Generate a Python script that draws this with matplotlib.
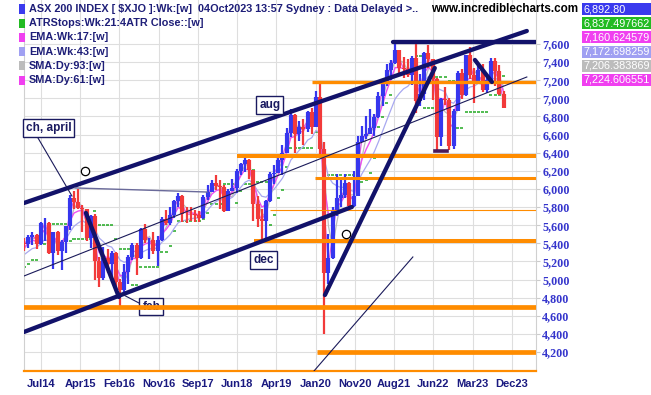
import pandas as pd
import numpy as np
import matplotlib
matplotlib.use('Agg')
import matplotlib.pyplot as plt
import matplotlib.dates as mdates
from matplotlib.patches import Rectangle

plt.rcParams['font.family'] = ['Liberation Sans', 'DejaVu Sans']

# monthly ASX 200 bars, Jul 2013 .. Oct 2023 (mid-month positions)
month_start = '2013-07-01'
close = [5052, 5135, 5218, 5425, 5320, 5352,
         5190, 5405, 5395, 5470, 5492, 5396, 5623, 5625, 5293, 5527, 5313, 5411,
         5588, 5898, 5861, 5790, 5777, 5459, 5699, 5207, 5021, 5239, 5166, 5296,
         4976, 4880, 5082, 5252, 5378, 5233, 5562, 5433, 5436, 5317, 5440, 5665,
         5621, 5712, 5864, 5924, 5724, 5721, 5720, 5715, 5682, 5909, 5969, 6065,
         6037, 6016, 5759, 5982, 6011, 6195, 6280, 6320, 6208, 5830, 5667, 5646,
         5865, 6169, 6181, 6325, 6397, 6618, 6813, 6604, 6688, 6663, 6846, 6684,
         7017, 6441, 5077, 5242, 5755, 5898, 5928, 6061, 5816, 5927, 6517, 6587,
         6607, 6673, 6791, 7025, 7162, 7313, 7393, 7535, 7332, 7324, 7256, 7445,
         6971, 7049, 7500, 7435, 7211, 6568, 6993, 6987, 6474, 6863, 7284, 7039,
         7476, 7258, 7178, 7309, 7091, 7203, 7410, 7305, 7049, 6893]
high = [5100, 5180, 5270, 5440, 5440, 5360,
        5400, 5420, 5460, 5490, 5520, 5500, 5630, 5680, 5640, 5530, 5540, 5440,
        5590, 5930, 5982, 5996, 5820, 5650, 5710, 5720, 5250, 5360, 5340, 5310,
        5300, 5010, 5170, 5270, 5400, 5400, 5570, 5610, 5460, 5530, 5480, 5690,
        5770, 5800, 5880, 5956, 5930, 5800, 5800, 5770, 5760, 5930, 6040, 6100,
        6150, 6100, 6040, 6000, 6110, 6220, 6290, 6374, 6330, 6210, 5920, 5780,
        5880, 6190, 6260, 6360, 6480, 6670, 6880, 6830, 6750, 6770, 6860, 6890,
        7080, 7197, 6520, 5500, 5800, 6160, 6100, 6170, 6080, 6200, 6580, 6690,
        6800, 6880, 6830, 7070, 7180, 7380, 7420, 7632, 7520, 7460, 7440, 7470,
        7600, 7270, 7510, 7590, 7430, 7230, 7000, 7130, 7000, 6880, 7300, 7320,
        7480, 7570, 7340, 7360, 7380, 7250, 7450, 7450, 7370, 7080]
low = [4900, 4960, 5100, 5200, 5280, 5130,
       5120, 5130, 5320, 5350, 5380, 5340, 5380, 5430, 5280, 5120, 5270, 5110,
       5290, 5550, 5780, 5780, 5520, 5430, 5350, 5000, 4920, 5000, 5070, 5030,
       4870, 4706, 4850, 4950, 5210, 5050, 5230, 5400, 5230, 5280, 5150, 5420,
       5600, 5600, 5680, 5800, 5630, 5620, 5650, 5640, 5630, 5670, 5880, 5970,
       5990, 5780, 5740, 5760, 5980, 5960, 6150, 6190, 6110, 5650, 5580, 5410,
       5460, 5860, 6050, 6180, 6150, 6400, 6570, 6400, 6530, 6490, 6630, 6610,
       6700, 6390, 4402, 4950, 5230, 5700, 5800, 5900, 5760, 5800, 5920, 6530,
       6550, 6640, 6580, 6780, 6920, 7140, 7200, 7380, 7270, 7220, 7240, 7150,
       6840, 6920, 6980, 7340, 6980, 6430, 6470, 6930, 6430, 6440, 6870, 6990,
       7030, 7210, 6950, 7170, 7070, 7060, 7200, 7140, 7040, 6890]

x_labels = ['Jul14', 'Apr15', 'Feb16', 'Nov16', 'Sep17', 'Jun18', 'Apr19',
            'Jan20', 'Nov20', 'Aug21', 'Jun22', 'Mar23', 'Dec23']
y_ticks = list(range(4200, 7601, 200))

legend_names = ['ASX 200 INDEX [ $XJO ]:Wk:[w]  04Oct2023 13:57 Sydney : Data Delayed >..',
                'ATRStops:Wk:21:4ATR Close::[w]', 'EMA:Wk:17:[w]', 'EMA:Wk:43:[w]',
                'SMA:Dy:93:[w]', 'SMA:Dy:61:[w]']
legend_values = ['6,892.80', '6,837.497662', '7,160.624579', '7,172.698259',
                 '7,206.383869', '7,224.606551']
legend_colors = ['#3a3aee', '#22bb22', '#f040f0', '#a0a0f2', '#bcbcbc', '#f040f0']

# hand drawn lines (date, index level)
thick_lines = [
    (['2014-03-15', '2024-04-02'], [5845, 7744]),   # upper channel
    (['2014-03-15', '2020-10-03'], [4421, 5801]),   # lower channel
    (['2015-06-10', '2016-02-06'], [5735, 4807]),
    (['2020-03-20', '2022-05-31'], [4829, 7335]),
    (['2021-08-01', '2024-07-01'], [7622, 7622]),
    (['2023-03-20', '2023-07-22'], [7424, 7181]),
]
thin_lines = [
    (['2014-03-15', '2024-04-02'], [5039, 7236]),
    (['2019-12-31', '2021-12-22'], [3990, 5249]),
    (['2014-06-25', '2015-02-28'], [6563, 5922]),
    (['2016-02-13', '2016-07-01'], [4851, 4741]),
]
flat_line = (['2015-03-22', '2017-11-10'], [6011, 5966])
low_2022 = (['2022-05-31', '2022-08-27'], [6419, 6419])

orange_levels = [7181, 6364, 6121, 5762, 5430, 4697, 4200]
orange_starts = ['2019-12-20', '2018-06-17', '2020-01-07', '2019-02-13',
                 '2018-10-19', '2014-03-01', '2020-01-24']
orange_widths = [2.4, 2.9, 2.2, 0.8, 2.9, 3.4, 3.4]

circles = (['2015-06-04', '2020-08-24'], [6198, 5503])
notes = [('aug', '2019-02-12', 6927), ('dec', '2018-12-29', 5216), ('feb', '2016-09-30', 4702)]

# ---- data frame + indicators
dates = pd.date_range(month_start, periods=len(close), freq='MS') + pd.Timedelta(days=14)
df = pd.DataFrame({'close': close, 'high': high, 'low': low}, index=dates)
df['open'] = df['close'].shift(1).fillna(df['close'])
df['ema17'] = df['close'].ewm(span=4, adjust=False).mean()
df['ema43'] = df['close'].ewm(span=10, adjust=False).mean()
df['sma93'] = df['close'].rolling(3).mean()
df['sma61'] = df['close'].rolling(2).mean()

prev = df['close'].shift(1)
tr = pd.concat([df['high'] - df['low'], (df['high'] - prev).abs(),
                (df['low'] - prev).abs()], axis=1).max(axis=1)
atr = tr.rolling(5, min_periods=1).mean()
stops = []
trend = 1
stop = df['close'].iloc[0] - 1.4 * atr.iloc[0]
for c, a in zip(df['close'], atr):
    if trend == 1:
        if c < stop:
            trend, stop = -1, c + 1.4 * a
        else:
            stop = max(stop, c - 1.4 * a)
    else:
        if c > stop:
            trend, stop = 1, c - 1.4 * a
        else:
            stop = min(stop, c + 1.4 * a)
    stops.append(stop)
df['stop'] = stops

# ---- figure
W, H = 651, 395
fig = plt.figure(figsize=(W / 100, H / 100), dpi=100)
ax = fig.add_axes([24 / W, 24 / H, 512 / W, 371 / H])

D0 = pd.Timestamp('2014-07-15')
tick_dates = [D0 + pd.Timedelta(days=286.7 * k) for k in range(13)]
ax.set_xlim(pd.Timestamp('2014-03-15'), pd.Timestamp('2024-06-08'))
ax.set_ylim(3990, 8086)

ax.set_xticks(mdates.date2num(tick_dates))
ax.set_xticklabels(x_labels, fontsize=8, fontweight='bold', color='#1a1a80')
ax.tick_params(axis='x', length=0, pad=6)
ax.yaxis.tick_right()
ax.set_yticks(y_ticks)
ax.set_yticklabels([f'{v:,}' for v in y_ticks], fontsize=8.7, fontweight='bold',
                   color='#3535cc', family='Liberation Serif')
ax.tick_params(axis='y', length=3, color='#cccccc', pad=1.5)
ax.grid(True, color='#dedede', lw=0.8)
ax.set_axisbelow(True)
ax.spines['top'].set_visible(False)
ax.spines['left'].set_color('#d0d0d0')
ax.spines['right'].set_color('#d0d0d0')
ax.spines['bottom'].set_color('#ff8c00')
ax.spines['bottom'].set_linewidth(1.6)

# ATR stops
ax.hlines(df['stop'], df.index - pd.Timedelta(days=11), df.index + pd.Timedelta(days=11),
          color='#22aa22', lw=1.1, zorder=2)

# moving averages
ax.plot(df.index, df['ema43'], color='#a8a8f0', lw=0.9, zorder=2)
ax.plot(df.index, df['sma93'], color='#bdbdbd', lw=0.9, zorder=2)
ax.plot(df.index, df['ema17'], color='#f050f0', lw=1.0, zorder=2)
ax.plot(df.index, df['sma61'], color='#e060e0', lw=0.9, zorder=2)

# bars
up = df['close'] >= df['open']
cols = np.where(up, '#3636ee', '#f23a3a')
ax.vlines(df.index, df['low'], df['high'], colors=cols, lw=1.6, zorder=3)
ax.vlines(df.index, df[['open', 'close']].min(axis=1), df[['open', 'close']].max(axis=1),
          colors=cols, lw=3.0, zorder=3)

# orange support / resistance lines
for lvl, st, w in zip(orange_levels, orange_starts, orange_widths):
    ax.plot([pd.Timestamp(st), pd.Timestamp('2024-07-01')], [lvl, lvl],
            color='#ff8c00', lw=w, solid_capstyle='butt', zorder=5)

# trend lines
for xs, ys in thick_lines:
    ax.plot(pd.to_datetime(xs), ys, color='#12126a', lw=3.1, solid_capstyle='round', zorder=6)
for xs, ys in thin_lines:
    ax.plot(pd.to_datetime(xs), ys, color='#1a1a5a', lw=0.8, zorder=6)
ax.plot(pd.to_datetime(flat_line[0]), flat_line[1], color='#6a6a9a', lw=1.0, zorder=6)
ax.plot(pd.to_datetime(low_2022[0]), low_2022[1], color='#4a1a5a', lw=2.6, zorder=6)
ax.plot(pd.to_datetime(circles[0]), circles[1], 'o', ms=6, mfc='white', mec='black',
        mew=0.9, zorder=7)

box = dict(boxstyle='square,pad=0.25', fc='white', ec='#1a1a60', lw=1.0)
for txt, d, v in notes:
    ax.text(pd.Timestamp(d), v, txt, ha='center', va='center', fontsize=8.5,
            fontweight='bold', color='#1a1a60', bbox=box, zorder=4 if txt == 'feb' else 8)
ax.text(pd.Timestamp('2014-03-28'), 6673, 'ch, april', ha='left', va='center',
        fontsize=8.5, fontweight='bold', color='#1a1a60', bbox=box, zorder=8)

# header legend
for i, (name, val, col) in enumerate(zip(legend_names, legend_values, legend_colors)):
    yc = 9 + 14.2 * i
    fig.patches.append(Rectangle((19 / W, 1 - (yc + 4.5) / H), 6 / W, 9 / H, fc=col, ec='none',
                                 transform=fig.transFigure, figure=fig))
    fig.text(29 / W, 1 - yc / H, name, fontsize=7.85, fontweight='bold', color='#1e1e78',
             va='center', ha='left')
    fig.patches.append(Rectangle((582 / W, 1 - (yc + 6) / H), 69 / W, 12 / H, fc=col, ec='none',
                                 transform=fig.transFigure, figure=fig))
    fig.text(584 / W, 1 - yc / H, val, fontsize=7.8, color='white', va='center', ha='left')

fig.text(431 / W, 1 - 9 / H, 'www.incrediblecharts.com', fontsize=8.4, fontweight='bold',
         color='black', va='center', ha='left')

fig.savefig('out.png', dpi=100)
